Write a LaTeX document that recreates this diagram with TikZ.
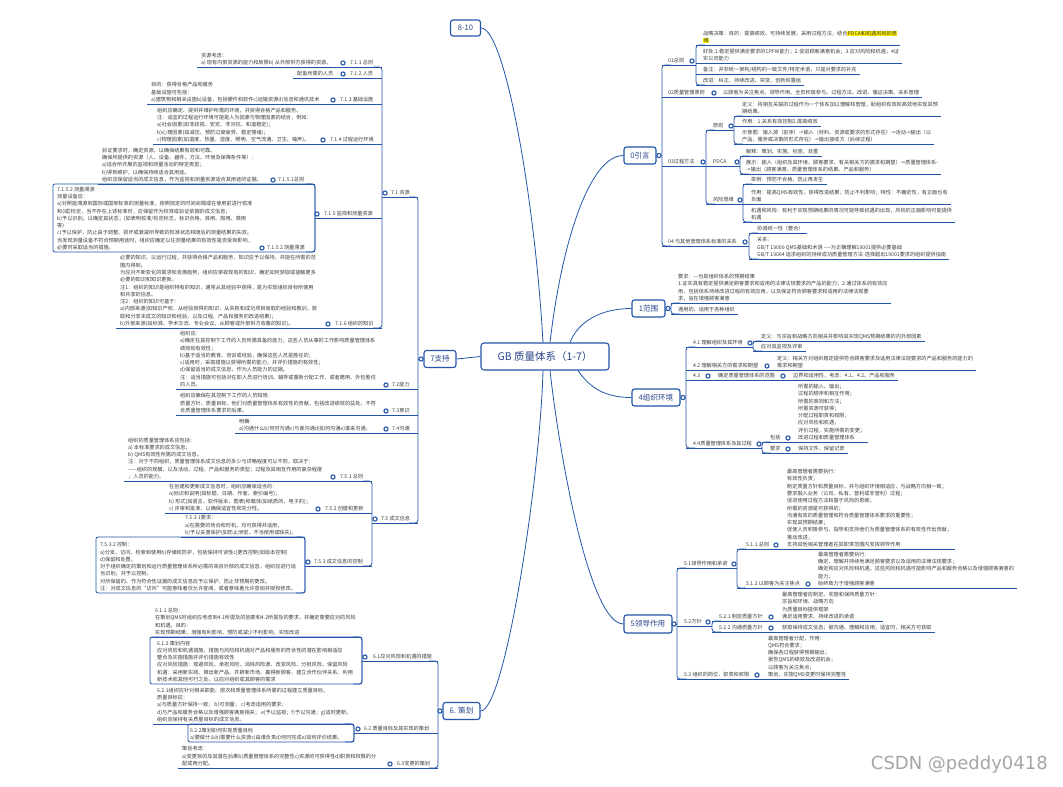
\documentclass[tikz,border=0pt]{standalone}
\usepackage{fontspec}
\setmainfont{Noto Sans CJK SC}
\newfontfamily\wmfont{DejaVu Sans}
\usetikzlibrary{calc}
\definecolor{lc}{RGB}{35,85,170}
\definecolor{tc}{RGB}{60,60,60}
\definecolor{bc}{RGB}{40,68,140}
\definecolor{hl}{RGB}{255,240,0}
\definecolor{wm}{RGB}{165,165,165}
\setlength{\fboxsep}{0.3pt}
\pgfdeclarelayer{fg}
\pgfsetlayers{main,fg}
\tikzset{
  ln/.style={draw=lc,line width=0.8pt},
  txt/.style={font=\fontsize{5.15}{7.3}\selectfont,text=tc,align=left,inner sep=0pt,anchor=south west},
  knob/.style={circle,draw=lc,fill=white,line width=1.1pt,inner sep=0pt,minimum size=4.2pt},
  topbox/.style={draw=lc,line width=1.1pt,rounded corners=2.5pt,fill=white,text=bc,
    font=\fontsize{7.6}{9}\selectfont,inner sep=0pt,minimum height=17pt},
}
% right-side leaf: name, bracket x, text x, underline y, text
\newcommand\rleaf[5]{\node[txt] (#1) at (#3,#4-1) {#5\rule[-1.3pt]{0pt}{1pt}};
  \draw[ln] (#2,#4) -- ([shift={(3,1)}]#1.south east);}
% left-side leaf: name, text x, underline y, bracket x, text
\newcommand\lleaf[5]{\node[txt] (#1) at (#2,#3-1) {#5\rule[-1.3pt]{0pt}{1pt}};
  \draw[ln] ([shift={(-4,1)}]#1.south west) -- (#4,#3);}
% label: name, x, underline y, text
\newcommand\lab[4]{\node[txt] (#1) at (#2,#3-1) {#4\rule[-1.3pt]{0pt}{1pt}};}
\newcommand\kn[3]{\begin{pgfonlayer}{fg}\node[knob] (#1) at (#2,#3) {};\end{pgfonlayer}}
\newcommand\rbr[3]{\draw[ln,rounded corners=3pt] (#1+9,#2) -- (#1,#2) -- (#1,#3) -- (#1+9,#3);}
\newcommand\lbr[3]{\draw[ln,rounded corners=3pt] (#1-9,#2) -- (#1,#2) -- (#1,#3) -- (#1-9,#3);}
\newcommand\hseg[3]{\draw[ln] (#1,#3) -- (#2,#3);}
\begin{document}
\begin{tikzpicture}[x=1pt,y=-1pt]
\fill[white] (0,0) rectangle (1063,787);
\useasboundingbox (0,0) rectangle (1063,787);

% ---------- top level ----------
\node[topbox,font=\fontsize{10.5}{12}\selectfont,minimum width=128pt,minimum height=27pt,rounded corners=3pt] (root) at (545,356.5) {GB 质量体系（1-7）};
\node[topbox,minimum width=30pt,minimum height=16pt] (n810) at (465.5,28) {8-10};
\node[topbox,minimum width=32pt] (n0) at (640,155.5) {0引言};
\node[topbox,minimum width=33pt] (n1) at (648.5,308.5) {1范围};
\node[topbox,minimum width=48pt] (n4) at (656,397.5) {4组织环境};
\node[topbox,minimum width=48pt,minimum height=18pt] (n5) at (648,624) {5领导作用};
\node[topbox,minimum width=37pt] (n6) at (461.5,711) {6. 策划};
\node[topbox,minimum width=32pt] (n7) at (440,359) {7支持};

\draw[ln] (n810.east) .. controls (505,28) and (535,200) .. ([xshift=-2pt]root.north);
\draw[ln] ([xshift=5pt]root.north) .. controls (562,240) and (590,155.5) .. (n0.west);
\draw[ln] ([xshift=25pt]root.north) .. controls (578,322) and (600,308.5) .. (n1.west);
\draw[ln] ([xshift=33pt]root.south) .. controls (590,388) and (605,397.5) .. (n4.west);
\draw[ln] ([xshift=5pt]root.south) .. controls (560,460) and (590,624) .. (n5.west);
\draw[ln] ([xshift=-2pt]root.south) .. controls (540,480) and (505,711) .. (n6.east);
\draw[ln] (root.west) -- (n7.east);

% ---------- 0 引言 ----------
\draw[ln] (n0.east) -- (662,155.5); \kn{k0}{659}{155.5}
\rbr{662}{65}{246}
\hseg{662}{696}{65} \lab{l01}{668}{65}{01总则} \kn{k01}{692}{61}
\rbr{696}{45}{85}
\rleaf{a1}{696}{703}{45}{战略决策：目的：提高绩效、可持续发展，采用过程方法，结合\colorbox{hl}{PDCA和机遇风险的思}\\\colorbox{hl}{维}}
\rleaf{a2}{696}{703}{63}{好处:1.稳定提供满足要求的CPFW能力；2.促进顾客满意机会；3.应对风险和机遇；4证\\实公司能力}
\rleaf{a3}{696}{703}{74}{备注：并非统一架构/结构的一致文件/特定术语，只是对要求的补充}
\rleaf{a4}{696}{703}{85}{改进：纠正、持续改进、突变、创新和重组}
\lab{l02}{668}{97}{02质量管理原则} \kn{k02}{714}{93}
\rleaf{a5}{662}{723}{97}{以顾客为关注焦点、领导作用、全员积极参与、过程方法、改进、循证决策、关系管理}
\hseg{662}{706}{166} \lab{l03}{668}{166}{03过程方法} \kn{k03}{703}{162}
\rbr{706}{130}{204}
\hseg{706}{734}{130} \lab{l031}{713}{130}{原则} \kn{k031}{731}{126}
\rbr{734}{116}{144}
\rleaf{b1}{734}{742}{116}{定义：将相互关联的过程作为一个体系加以理解和管理，助组织有效和高效地实现其预\\期结果。}
\rleaf{b2}{734}{742}{126}{作用：1.关系有效控制2.提高绩效}
\rleaf{b3}{734}{742}{144}{示意图：输入源（前序）->输入（材料、资源或要求的形式存在）->活动->输出（以\\产品、服务或决策的形式存在）->输出接收方（后续过程）}
\hseg{706}{740}{166} \lab{l032}{713}{166}{PDCA} \kn{k032}{737}{162}
\rbr{740}{156}{174}
\rleaf{b4}{740}{746}{156}{解释：策划、实施、检查、处置}
\rleaf{b5}{740}{746}{174}{展示：输入（组织及其环境、顾客要求、有关相关方的需求和期望）->质量管理体系-\\->输出（顾客满意、质量管理体系的结果、产品和服务）}
\hseg{706}{743}{204} \lab{l033}{713}{204}{风险思维} \kn{k033}{740}{200}
\rbr{743}{184}{222}
\rleaf{b6}{743}{751}{184}{举例：预防不合格，防止再发生}
\rleaf{b7}{743}{751}{204}{作用：提高QMS有效性，获得改进结果，防止不利影响；特性：不确定性，有正面也有\\负面}
\rleaf{b8}{743}{751}{222}{机遇和风险：有利于实现预期结果的情况可能导致机遇的出现，风险的正面影响可能提供\\机遇}
\hseg{662}{749}{246} \lab{l04}{668}{246}{04 与其他管理体系标准的关系} \kn{k04}{745}{242}
\rbr{749}{233}{259}
\rleaf{b9}{749}{757}{233}{协调统一性（整合）}
\rleaf{b10}{749}{757}{259}{关系：\\GB/T 19000 QMS基础和术语 -{}-{}-{}-为正确理解19001提供必要基础\\GB/T 19004 追求组织的持续成功质量管理方法-选择超出19001要求的组织提供指南}

% ---------- 1 范围 ----------
\draw[ln] (n1.east) -- (671,308.5); \kn{k1}{668}{308.5}
\rbr{671}{303}{314}
\rleaf{c1}{671}{678}{303}{要求：—也是组织体系的预期结果\\1.证实具有稳定提供满足顾客要求和适用的法律法规要求的产品的能力；2.通过体系的有效应\\用，包括体系持续改进过程的有效应用，以及保证符合顾客要求和适用的法律法规要\\求，旨在增强顾客满意}
\rleaf{c2}{671}{678}{314}{通用的，适用于各种组织}

% ---------- 4 组织环境 ----------
\draw[ln] (n4.east) -- (686,397.5); \kn{k4}{683}{397.5}
\rbr{686}{347}{448}
\hseg{686}{753}{347} \lab{l41}{693}{347}{4.1 理解组织及其环境} \kn{k41}{750}{343}
\rbr{753}{341}{351}
\rleaf{d1}{753}{761}{341}{定义：与宗旨和战略方向相关并影响其实现QMS预期结果的内外部因素}
\rleaf{d2}{753}{761}{351}{应对其监视及评审}
\lab{l42}{693}{370}{4.2 理解相关方的需求和期望} \kn{k42}{767}{366}
\rleaf{d3}{686}{777}{370}{定义：相关方对组织稳定提供符合顾客要求及适用法律法规要求的产品和服务的能力的\\需求和期望}
\lab{l43a}{693}{380}{4.3} \kn{k43a}{708}{376}
\lab{l43b}{718}{380}{确定质量管理体系的范围} \kn{k43b}{783}{376}
\rleaf{d4}{686}{793}{380}{边界和适用性，考虑：4.1、4.2、产品和服务}
\hseg{686}{762}{448} \lab{l44}{693}{448}{4.4质量管理体系及其过程} \kn{k44}{759}{444}
\rbr{762}{442}{453}
\lab{l441}{770}{442}{包括} \kn{k441}{788}{438}
\rleaf{d5}{762}{798}{442}{所需的输入、输出；\\过程的顺序和相互作用；\\所需的准则和方法；\\所需资源可获得；\\分配过程职责和权限；\\应对风险和机遇；\\评价过程，实施所需的变更；\\改进过程和质量管理体系}
\lab{l442}{770}{453}{要求} \kn{k442}{788}{449}
\rleaf{d6}{762}{798}{453}{保持文件、保留记录}

% ---------- 5 领导作用 ----------
\draw[ln] (n5.east) -- (677,624); \kn{k5}{674}{624}
\rbr{677}{568}{679}
\hseg{677}{737}{568} \lab{l51}{684}{568}{5.1领导作用和承诺} \kn{k51}{734}{564}
\rbr{737}{549}{588}
\lab{l511}{746}{549}{5.1.1 总则} \kn{k511}{776}{545}
\rleaf{e1}{737}{787}{549}{最高管理者需要执行：\\有效性负责；\\制定质量方针和质量目标，并与组织环境相适应，与战略方向相一致；\\要求融入业务（公司、私有、营利或非营利）过程；\\促进使用过程方法和基于风险的思维；\\所需的资源是可获得的；\\沟通有效的质量管理和符合质量管理体系要求的重要性；\\实现其预期结果；\\促使人员积极参与，指导和支持他们为质量管理体系的有效性作出贡献；\\推动改进；\\支持其他相关管理者在其职责范围内发挥领导作用}
\lab{l512}{746}{588}{5.1.2 以顾客为关注焦点} \kn{k512}{808}{584}
\rleaf{e2}{737}{818}{588}{最高管理者需要执行：\\确定、理解并持续地满足顾客要求以及适用的法律法规要求；\\确定和应对风险和机遇，这些风险和机遇可能影响产品和服务合格以及增强顾客满意的\\能力；\\始终致力于增强顾客满意}
\hseg{677}{712}{626} \lab{l52}{684}{626}{5.2方针} \kn{k52}{708}{622}
\rbr{712}{621}{632}
\lab{l521}{719}{621}{5.2.1 制定质量方针} \kn{k521}{771}{617}
\rleaf{e3}{712}{782}{621}{最高管理者应制定、实施和保持质量方针：\\宗旨和环境、战略方向\\为质量目标提供框架\\满足适用要求、持续改进的承诺}
\lab{l522}{719}{632}{5.2.2 沟通质量方针} \kn{k522}{771}{628}
\rleaf{e4}{712}{782}{632}{获取保持成文信息；被沟通、理解和应用；适宜时，相关方可获取}
\lab{l53}{684}{679}{5.3 组织的岗位、职责和权限} \kn{k53}{757}{675}
\rleaf{e5}{677}{768}{679}{最高管理者分配，作用：\\QMS符合要求；\\确保各过程获得预期输出；\\报告QMS的绩效及改进机会；\\以顾客为关注焦点；\\策划、实施QMS变更时保持完整性}

% ---------- 7 支持 ----------
\draw[ln] (n7.west) -- (418,359); \kn{k7}{421}{359}
\lbr{418}{197}{523}
\hseg{382}{418}{197} \lab{l71}{391}{197}{7.1 资源} \kn{k71}{385}{193}
\lbr{382}{67}{328}
\lab{l711}{350}{67}{7.1.1 总则} \kn{k711}{343}{63}
\lleaf{f1}{201}{67}{382}{资源考虑：\\a) 现有内部资源的能力和局限b) 从外部供方获得的资源。}
\lab{l712}{350}{78}{7.1.2 人员} \kn{k712}{343}{74}
\lleaf{f2}{297}{78}{382}{配备所需的人员}
\lab{l713}{340}{104}{7.1.3 基础设施} \kn{k713}{333}{100}
\lleaf{f3}{151}{104}{382}{目的：获得合格产品和服务\\基础设施可包括：\\a)建筑物和相关设施b)设备，包括硬件和软件c)运输资源d)信息和通讯技术}
\lab{l714}{330}{144}{7.1.4 过程运行环境} \kn{k714}{323}{140}
\lleaf{f4}{157}{144}{382}{组织应确定、提供并维护所需的环境，并获得合格产品和服务。\\注：适宜的过程运行环境可能是人为因素与物理因素的结合，例如：\\a)社会因素(如非歧视、安定、非对抗、和谐稳定)；\\b)心理因素(如减压、预防过度疲劳、稳定情绪)；\\c)物理因素(如温度、热量、湿度、照明、空气流通、卫生、噪声)。}
\hseg{315}{382}{218} \lab{l715}{324}{218}{7.1.5 监视和测量资源} \kn{k715}{317}{214}
\lbr{315}{184}{252}
\lab{l7151}{278}{184}{7.1.5.1总则} \kn{k7151}{273}{180}
\lleaf{f5}{102}{184}{315}{验证要求时，确定资源，以确保结果有效和可靠。\\确保所提供的资源（人、设备、器件、方法、环境及保障条件等）：\\a)适合所开展的监视和测量活动的特定类型；\\b)得到维护，以确保持续适合其用途。\\组织应保留适当的成文信息，作为监视和测量资源适合其用途的证据。}
\draw[ln,rounded corners=2pt] (53,184) rectangle (315,252);
\node[txt] (f6) at (57,251) {7.1.5.2 测量溯源\\测量设备应：\\a)对照能溯源到国际或国家标准的测量标准，按照规定的时间间隔或在使用前进行校准\\和(或)检定，当不存在上述标准时，应保留作为校准或验证依据的成文信息；\\b)予以识别，以确定其状态；(如表明校准/检定标志，标识合格、准用、限用、禁用\\等)\\c)予以保护，防止由于调整、损坏或衰减所导致的校准状态和随后的测量结果的失效。\\当发现测量设备不符合预期用途时，组织应确定以往测量结果的有效性是否受到影响，\\必要时采取适当的措施。\rule[-1.3pt]{0pt}{1pt}};
\lab{l7152}{267}{252}{7.1.5.2 测量溯源} \kn{k7152}{262}{248}
\lab{l716}{335}{328}{7.1.6 组织的知识} \kn{k716}{328}{324}
\lleaf{f7}{120}{328}{382}{必要的知识，以运行过程，并获得合格产品和服务，知识应予以保持，并能在所需的范\\围内得到。\\为应对不断变化的需求和发展趋势，组织应审视现有的知识，确定如何获取或接触更多\\必要的知识和知识更新。\\注1：组织的知识是组织特有的知识，通常从其经验中获得，是为实现组织目标所使用\\和共享的信息。\\注2：组织的知识可基于：\\a)内部来源(如知识产权，从经验获得的知识，从失败和成功项目吸取的经验和教训，获\\取和分享未成文的知识和经验，以及过程、产品和服务的改进结果)；\\b)外部来源(如标准、学术交流、专业会议、从顾客或外部供方收集的知识)。}
\lab{l72}{392}{389}{7.2能力} \kn{k72}{386}{385}
\lleaf{g1}{180}{389}{418}{组织应：\\a)确定在其控制下工作的人员所需具备的能力，这些人员从事的工作影响质量管理体系\\绩效和有效性；\\b)基于适当的教育、培训或经验，确保这些人员是胜任的；\\c)适用时，采取措施以获得所需的能力，并评价措施的有效性；\\d)保留适当的成文信息，作为人员能力的证据。\\注：适当措施可包括对在职人员进行培训、辅导或重新分配工作，或者聘用、外包胜任\\的人员。}
\lab{l73}{392}{415}{7.3意识} \kn{k73}{386}{411}
\lleaf{g2}{180}{415}{418}{组织应确保在其控制下工作的人员知晓：\\质量方针、质量目标、他们对质量管理体系有效性的贡献，包括改进绩效的益处，不符\\合质量管理体系要求的后果。}
\lab{l74}{392}{433}{7.4沟通} \kn{k74}{386}{429}
\lleaf{g3}{239}{433}{418}{明确：\\a)沟通什么b)何时沟通c)与谁沟通d)如何沟通e)谁来沟通。}
\hseg{372}{418}{523} \lab{l75}{381}{523}{7.5 成文信息} \kn{k75}{375}{519}
\lbr{372}{481}{566}
\lab{l751}{340}{481}{7.5.1 总则} \kn{k751}{333}{477}
\lleaf{g4}{128}{481}{372}{组织的质量管理体系应包括：\\a) 本标准要求的成文信息；\\b) QMS有效性所需的成文信息。\\注：对于不同组织，质量管理体系成文信息的多少与详略程度可以不同，取决于：\\——组织的规模，以及活动、过程、产品和服务的类型；过程及其相互作用的复杂程度\\；人员的能力。}
\lab{l752}{325}{513}{7.5.2 创建和更新} \kn{k752}{318}{509}
\lleaf{g5}{169}{513}{372}{在创建和更新成文信息时，组织应确保适当的：\\a)标识和说明(如标题、日期、作者、索引编号)；\\b) 形式(如语言、软件版本、图表)和载体(如纸质的、电子的)；\\c) 评审和批准，以确保适宜性和充分性。}
\hseg{305}{372}{566} \lab{l753}{314}{566}{7.5.3 成文信息的控制} \kn{k753}{308}{562}
\lbr{305}{537}{593}
\lleaf{g6}{185}{537}{305}{7.5.3.1要求：\\a)在需要的场合和时机，均可获得并适用；\\b)予以妥善保护(如防止泄密、不当使用或缺失)。}
\draw[ln,rounded corners=2pt] (96,537) rectangle (305,593);
\node[txt] (g7) at (100,592) {7.5.3.2 控制：\\a)分发、访问、检索和使用b)存储和防护，包括保持可读性c)更改控制(如版本控制)\\d)保留和处置。\\对于组织确定的策划和运行质量管理体系所必需的来自外部的成文信息，组织应进行适\\当识别，并予以控制。\\对所保留的、作为符合性证据的成文信息应予以保护，防止非预期的更改。\\注：对成文信息的“访问”可能意味着仅允许查阅，或者意味着允许查阅并授权修改。\rule[-1.3pt]{0pt}{1pt}};

% ---------- 6 策划 ----------
\draw[ln] (n6.west) -- (438,711); \kn{k6}{440}{711}
\lbr{438}{661}{768}
\hseg{362}{438}{661} \lab{l61}{373}{661}{6.1应对风险和机遇的措施} \kn{k61}{365}{657}
\lbr{362}{637}{684}
\lleaf{h1}{155}{637}{362}{6.1.1 总则：\\在策划QMS时组织应考虑到4.1所提及的因素和4.2所提及的要求，并确定需要应对的风险\\和机遇，目的：\\实现预期结果，增强有利影响，预防或减少不利影响，实现改进}
\draw[ln,rounded corners=2pt] (150,637) rectangle (362,684);
\node[txt] (h2) at (157,683) {6.1.2 策划内容\\应对风险和机遇措施，措施与风险和机遇对产品和服务的符合性的潜在影响相适应\\整合及实施措施并评价措施有效性\\应对风险措施：规避风险、承担风险、消除风险源、改变风险、分担风险、保留风险\\机遇：采用新实践、推出新产品、开辟新市场、赢得新顾客、建立合作伙伴关系、利用\\新技术和其他可行之处，以应对组织或其顾客的需求\rule[-1.3pt]{0pt}{1pt}};
\hseg{354}{438}{733} \lab{l62}{364}{733}{6.2 质量目标及其实现的策划} \kn{k62}{358}{729}
\lbr{354}{724}{742}
\lleaf{h3}{157}{724}{354}{6.2.1组织应针对相关职能、层次和质量管理体系所需的过程建立质量目标。\\质量目标应：\\a)与质量方针保持一致； b)可测量； c)考虑适用的要求；\\d)与产品和服务合格以及增强顾客满意相关； e)予以监视；f)予以沟通；g)适时更新。\\组织应保持有关质量目标的成文信息。}
\draw[ln,rounded corners=2pt] (188,724) rectangle (354,742);
\node[txt] (h4) at (190,741) {6.2.2策划如何实现质量目标\\a)要做什么b)需要什么资源c)由谁负责d)何时完成e)如何评价结果。\rule[-1.3pt]{0pt}{1pt}};
\lab{l63}{397}{768}{6.3变更的策划} \kn{k63}{390}{764}
\lleaf{h5}{182}{768}{438}{策划考虑：\\a)变更目的及其潜在后果b)质量管理体系的完整性c)资源的可获得性d)职责和权限的分\\配或再分配。}

% ---------- watermark ----------
\node[font=\wmfont\fontsize{18}{20}\selectfont,text=wm,anchor=east,inner sep=0pt] (wmk) at (1048,765) {CSDN @peddy0418};
\end{tikzpicture}
\end{document}
